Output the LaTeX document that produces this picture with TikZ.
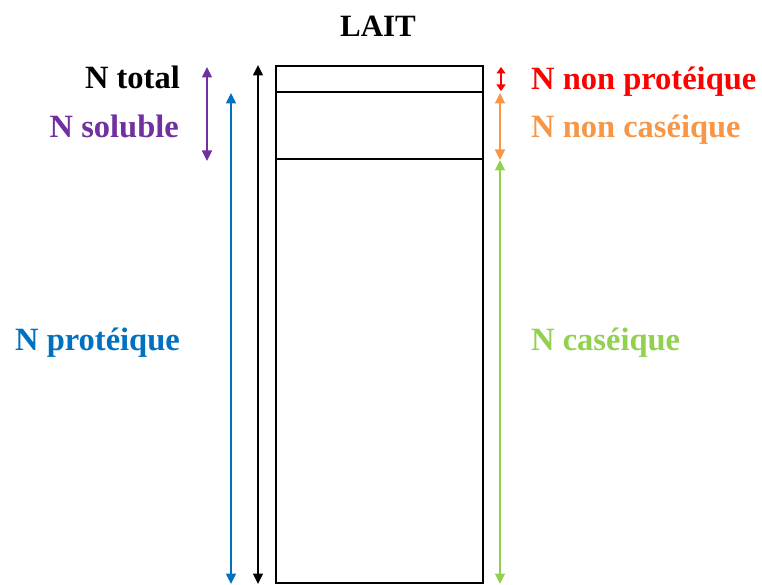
\documentclass[tikz,border=0pt]{standalone}
\usepackage{fontspec}
\setmainfont{Liberation Serif}
\usetikzlibrary{arrows.meta}
\definecolor{cpurple}{RGB}{112,48,160}
\definecolor{cblue}{RGB}{0,112,192}
\definecolor{cred}{RGB}{255,0,0}
\definecolor{corange}{RGB}{247,150,70}
\definecolor{cgreen}{RGB}{146,208,80}
\begin{document}
\begin{tikzpicture}[x=1pt,y=-1pt,
  lbl/.style={font=\fontsize{32.5}{38}\selectfont\bfseries, inner sep=0pt},
  dim/.style={line width=1.3pt, {Triangle[length=10.5pt,width=10pt]}-{Triangle[length=10.5pt,width=10pt]}},
  part/.style={draw, line width=1.2pt}]
\useasboundingbox (0,0) rectangle (762,585);
% column of milk fractions
\coordinate (bTL) at (276,66);
\coordinate (bBR) at (483,583);
\draw[part] (bTL) rectangle (bBR);
\coordinate (d1L) at (276,92);  \coordinate (d1R) at (483,92);
\coordinate (d2L) at (276,159); \coordinate (d2R) at (483,159);
\draw[part] (d1L) -- (d1R);
\draw[part] (d2L) -- (d2R);
% title
\node[lbl, font=\fontsize{31}{36}\selectfont\bfseries, anchor=base] (lait) at (378,37) {LAIT};
% left labels
\node[lbl, anchor=base east] (ntot) at (180,89) {N total};
\node[lbl, anchor=base east, text=cpurple] (nsol) at (179,138) {N soluble};
\node[lbl, anchor=base east, text=cblue] (nprot) at (180,350) {N protéique};
% right labels
\node[lbl, anchor=base west, text=cred] (nnp) at (531,90) {N non protéique};
\node[lbl, anchor=base west, text=corange] (nnc) at (531,138) {N non caséique};
\node[lbl, anchor=base west, text=cgreen] (ncas) at (531,350) {N caséique};
% arrow end points
\coordinate (kT) at (258,65);  \coordinate (kB) at (258,584);
\coordinate (bT) at (231,93);  \coordinate (bB) at (231,584);
\coordinate (pT) at (207,67);  \coordinate (pB) at (207,161);
\coordinate (rT) at (501,67);  \coordinate (rB) at (501,91);
\coordinate (oT) at (500,93);  \coordinate (oB) at (500,160);
\coordinate (gT) at (500,160); \coordinate (gB) at (500,584);
% dimension arrows
\draw[dim, black] (kT) -- (kB);
\draw[dim, cblue] (bT) -- (bB);
\draw[dim, cpurple] (pT) -- (pB);
\draw[line width=1.3pt, cred, {Triangle[length=6.5pt,width=9pt]}-{Triangle[length=6.5pt,width=9pt]}] (rT) -- (rB);
\draw[dim, corange] (oT) -- (oB);
\draw[dim, cgreen] (gT) -- (gB);
\end{tikzpicture}
\end{document}
